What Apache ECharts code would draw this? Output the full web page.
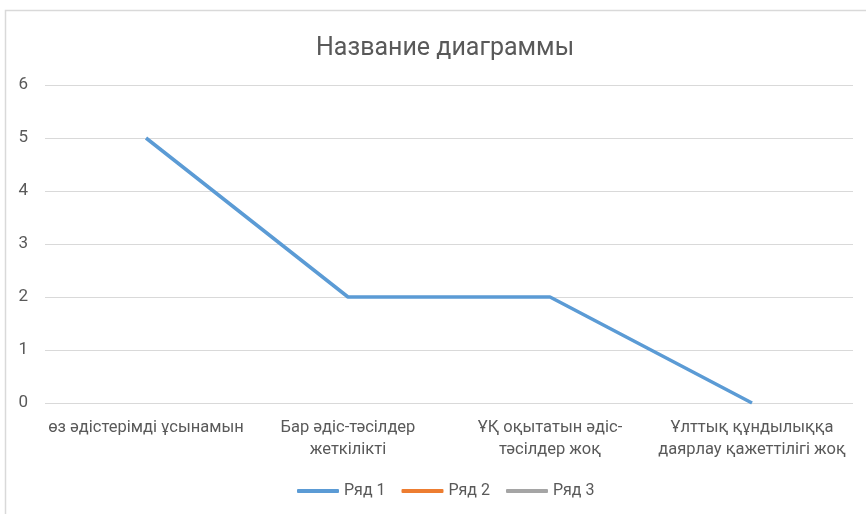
<!DOCTYPE html>
<html>
<head>
<meta charset="utf-8">
<script src="https://cdn.jsdelivr.net/npm/echarts@6/dist/echarts.min.js"></script>
<style>
html,body{margin:0;padding:0;background:#fff;}
#chart{width:866px;height:514px;}
</style>
</head>
<body>
<div id="chart"></div>
<script>
const titleText = 'Название диаграммы';
const categories = ['өз әдістерімді ұсынамын', 'Бар әдіс-тәсілдер\nжеткілікті', 'ҰҚ оқытатын әдіс-\nтәсілдер жоқ', 'Ұлттық құндылыққа\nдаярлау қажеттілігі жоқ'];
const seriesNames = ['Ряд 1', 'Ряд 2', 'Ряд 3'];
const series1 = [5, 2, 2, 0];
const series2 = [null, null, null, null];
const series3 = [null, null, null, null];
const yTicks = {min: 0, max: 6, interval: 1};
const colors = ['#5B9BD5', '#ED7D31', '#A5A5A5'];

const font = 'Roboto, "Open Sans", sans-serif';
const chart = echarts.init(document.getElementById('chart'), null, {renderer: 'canvas'});
chart.setOption({
  animation: false,
  backgroundColor: '#fff',
  color: colors,
  title: {
    text: titleText, left: 311, top: 31,
    textStyle: {fontFamily: 'Roboto, sans-serif', fontWeight: 'normal', fontSize: 25, color: '#595959'}
  },
  graphic: [{
    type: 'rect', shape: {x: 5.5, y: 10.5, width: 880, height: 520},
    style: {fill: null, stroke: '#d9d9d9', lineWidth: 1.5}, silent: true
  }],
  legend: {
    bottom: 10, left: 292, itemWidth: 42, itemHeight: 4, itemGap: 16,
    icon: 'roundRect',
    textStyle: {fontFamily: font, fontSize: 16, color: '#595959'},
    data: seriesNames
  },
  grid: {left: 45, right: 13, top: 85, bottom: 111, containLabel: false},
  xAxis: {
    type: 'category', data: categories, boundaryGap: true,
    axisLine: {show: false}, axisTick: {show: false},
    axisLabel: {fontFamily: font, fontSize: 16.5, color: '#595959', margin: 14, lineHeight: 22, interval: 0}
  },
  yAxis: {
    type: 'value', min: yTicks.min, max: yTicks.max, interval: yTicks.interval,
    axisLine: {show: false}, axisTick: {show: false},
    splitLine: {lineStyle: {color: '#d9d9d9', width: 1}},
    axisLabel: {fontFamily: font, fontSize: 17, color: '#595959', margin: 17}
  },
  series: [
    {name: seriesNames[0], type: 'line', data: series1, symbol: 'none', lineStyle: {width: 3.5, color: colors[0]}},
    {name: seriesNames[1], type: 'line', data: series2, symbol: 'none', lineStyle: {width: 3.5, color: colors[1]}},
    {name: seriesNames[2], type: 'line', data: series3, symbol: 'none', lineStyle: {width: 3.5, color: colors[2]}}
  ]
});
</script>
</body>
</html>
